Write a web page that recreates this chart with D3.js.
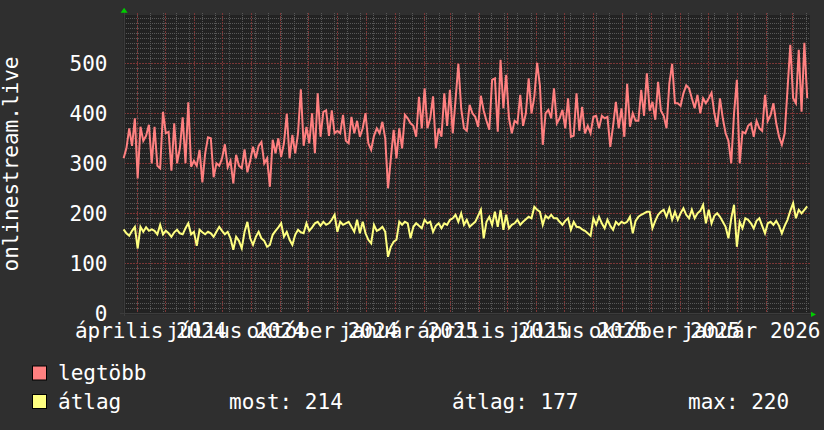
<!DOCTYPE html>
<html><head><meta charset="utf-8">
<script src="https://cdn.jsdelivr.net/npm/d3@7"></script>
<style>html,body{margin:0;padding:0;background:#2f2f2f;}svg{display:block;}</style>
</head><body><svg id="c" width="824" height="430"></svg>
<script>
// ---- data ----
const startDate = "2024-03-18";
const stepDays = 3;
const domainStart = "2024-03-18";
const domainEnd = "2026-03-20";
const maxValues = [
310,330,370,335,390,270,373,345,355,377,
300,373,295,290,403,360,363,285,380,300,
330,392,300,422,293,305,295,327,262,320,
352,350,272,300,295,310,338,292,305,260,
317,295,290,328,282,305,333,310,335,343,
300,310,253,347,320,350,313,340,399,310,
357,320,360,448,335,373,340,400,320,440,
353,403,406,355,406,360,365,360,397,345,
340,393,360,385,353,370,400,340,327,355,
370,360,383,350,250,310,367,310,370,330,
397,390,380,375,353,433,370,450,370,390,
434,330,370,353,440,375,447,360,427,499,
410,370,365,417,400,393,373,435,405,385,
367,467,470,363,507,410,477,390,360,385,
380,437,375,400,470,400,433,501,455,337,
400,407,390,450,380,390,407,370,430,353,
355,440,365,413,360,375,360,393,395,370,
395,390,393,333,375,423,370,410,353,459,
373,400,385,385,447,395,480,405,423,387,
463,405,395,370,460,499,420,420,415,440,
456,450,430,410,437,400,430,420,430,441,
400,373,430,390,360,345,300,400,467,300,
363,360,375,380,353,385,370,365,437,385,
397,420,380,353,337,360,447,537,430,420,
527,403,541,430];
const avgValues = [
168,160,155,165,173,130,173,163,172,165,
168,165,158,177,158,165,160,153,162,167,
160,158,170,180,158,163,135,167,162,158,
163,160,153,163,173,165,158,163,150,127,
153,145,130,163,183,150,137,153,163,150,
145,133,137,157,165,172,180,153,163,147,
137,157,167,162,160,180,165,172,180,183,
175,183,177,180,187,197,163,183,177,180,
183,173,163,187,160,183,160,147,140,177,
165,168,173,163,113,133,143,147,183,177,
183,180,150,173,180,175,170,187,180,183,
163,175,180,170,180,177,187,190,197,183,
200,177,187,173,178,183,195,207,150,183,
193,177,203,173,207,167,197,170,177,180,
187,177,183,188,193,190,213,207,203,177,
195,190,197,190,190,183,177,185,190,167,
183,173,172,168,165,160,155,190,177,193,
180,170,187,175,167,183,177,183,180,183,
193,160,185,193,197,200,203,203,170,185,
197,203,207,193,210,187,203,187,200,210,
197,190,207,190,200,205,217,180,207,180,
195,200,193,183,173,150,190,217,133,183,
170,190,187,180,170,185,190,175,160,180,
183,177,185,175,160,175,187,205,220,190,
207,200,207,214];
const monthLabels = ["április 2024","július 2024","október 2024","január 2025","április 2025","július 2025","október 2025","január 2026"];
const monthLabelDates = ["2024-04-01","2024-07-01","2024-10-01","2025-01-01","2025-04-01","2025-07-01","2025-10-01","2026-01-01"];
const yTicks = [0,100,200,300,400,500];
const yMax = 600;
const yTitle = "onlinestream.live";
const seriesNames = ["legtöbb","átlag"];
const seriesColors = ["#ff8080","#ffff80"];
const statTexts = ["most: 214","átlag: 177","max: 220"];

// ---- drawing ----
const svg = d3.select("#c");
const FONT = "'DejaVu Sans Mono', monospace";
const L = 123.6, R = 810, T = 15, B = 313.3;
const parse = d3.utcParse("%Y-%m-%d");
const x = d3.scaleUtc().domain([parse(domainStart), parse(domainEnd)]).range([L, R]);
const y = d3.scaleLinear().domain([0, yMax]).range([B, B - (B - 13.3)]);
const t0 = parse(startDate);
const dates = maxValues.map((_, i) => d3.utcDay.offset(t0, i * stepDays));

svg.append("rect").attr("width",824).attr("height",430).attr("fill","#2f2f2f");
svg.append("rect").attr("x",L).attr("y",T).attr("width",R-L).attr("height",B-T+1).attr("fill","#222222");

const g = svg.append("g").attr("shape-rendering","crispEdges");
// minor horizontal grid every 10
const minorY = d3.range(10, yMax, 10).filter(v => v % 100 !== 0 && y(v) >= T);
g.selectAll(".mh").data(minorY).join("line")
  .attr("x1",L).attr("x2",R).attr("y1",d=>Math.round(y(d))+0.5).attr("y2",d=>Math.round(y(d))+0.5)
  .attr("stroke","#585858").attr("stroke-dasharray","1,1");
// minor vertical grid every 2 weeks
const minorX = d3.utcDay.every(14).range ? d3.range(0, 60).map(k => d3.utcDay.offset(parse(domainStart), 14*k)).filter(d => x(d) > L+1 && x(d) < R) : [];
g.selectAll(".mv").data(minorX).join("line")
  .attr("x1",d=>Math.round(x(d))+0.5).attr("x2",d=>Math.round(x(d))+0.5).attr("y1",T-2).attr("y2",B)
  .attr("stroke","#585858").attr("stroke-dasharray","1,1");
// major horizontal grid
g.selectAll(".Mh").data(yTicks.filter(v=>v>0)).join("line")
  .attr("x1",L).attr("x2",R).attr("y1",d=>Math.round(y(d))+0.5).attr("y2",d=>Math.round(y(d))+0.5)
  .attr("stroke","#7a3636").attr("stroke-dasharray","2,1");
// major vertical grid monthly
const months = d3.utcMonth.range(parse(domainStart), parse(domainEnd));
g.selectAll(".Mv").data(months.filter(d => x(d) > L+1)).join("line")
  .attr("x1",d=>Math.round(x(d))+0.5).attr("x2",d=>Math.round(x(d))+0.5).attr("y1",T-2).attr("y2",B)
  .attr("stroke","#7a3636").attr("stroke-dasharray","2,1");

// axes
g.append("line").attr("x1",120).attr("x2",811).attr("y1",Math.round(B)+0.5).attr("y2",Math.round(B)+0.5).attr("stroke","#3c3c3c");
g.append("line").attr("x1",Math.round(L)+0.5).attr("x2",Math.round(L)+0.5).attr("y1",12).attr("y2",B+3).attr("stroke","#3c3c3c");
svg.append("path").attr("d",`M${L-3},12.7L${L+4},12.7L${L+0.5},7.8Z`).attr("fill","#00cc00");
svg.append("path").attr("d",`M811,311.8L811,317L816,314.4Z`).attr("fill","#00cc00");

// series
const line = d3.line().x((d,i)=>x(dates[i])).y(d=>y(d));
[maxValues, avgValues].forEach((vals, k) => {
  svg.append("path").datum(vals).attr("d", line).attr("fill","none")
    .attr("stroke", seriesColors[k]).attr("stroke-width",2).attr("stroke-linejoin","miter");
});

// y tick labels
svg.selectAll(".yl").data(yTicks).join("text")
  .attr("x",107.5).attr("y",d=>y(d)+8).attr("text-anchor","end")
  .attr("font-family",FONT).attr("font-size",21).attr("fill","#ffffff").text(d=>d);
// y title
svg.append("text").attr("transform","translate(18,164) rotate(-90)").attr("text-anchor","middle")
  .attr("font-family",FONT).attr("font-size",21).attr("fill","#ffffff").text(yTitle);
// x labels (centered mid-month)
svg.selectAll(".xl").data(monthLabels).join("text")
  .attr("x",(d,i)=>x(d3.utcDay.offset(parse(monthLabelDates[i]),15))).attr("y",338)
  .attr("text-anchor","middle").attr("font-family",FONT).attr("font-size",21).attr("fill","#ffffff").text(d=>d);

// legend
const rowsY = [380, 408.5];
seriesNames.forEach((n,k) => {
  svg.append("rect").attr("x",32.5).attr("y",rowsY[k]-14).attr("width",14).attr("height",14)
    .attr("fill",seriesColors[k]).attr("stroke","#000").attr("stroke-width",1);
  svg.append("text").attr("x",58).attr("y",rowsY[k]).attr("font-family",FONT).attr("font-size",21)
    .attr("fill","#ffffff").text(n);
});
const statX = [229, 452, 688];
statTexts.forEach((s,i) => {
  svg.append("text").attr("x",statX[i]).attr("y",rowsY[1]).attr("font-family",FONT).attr("font-size",21)
    .attr("fill","#ffffff").text(s);
});
</script></body></html>
